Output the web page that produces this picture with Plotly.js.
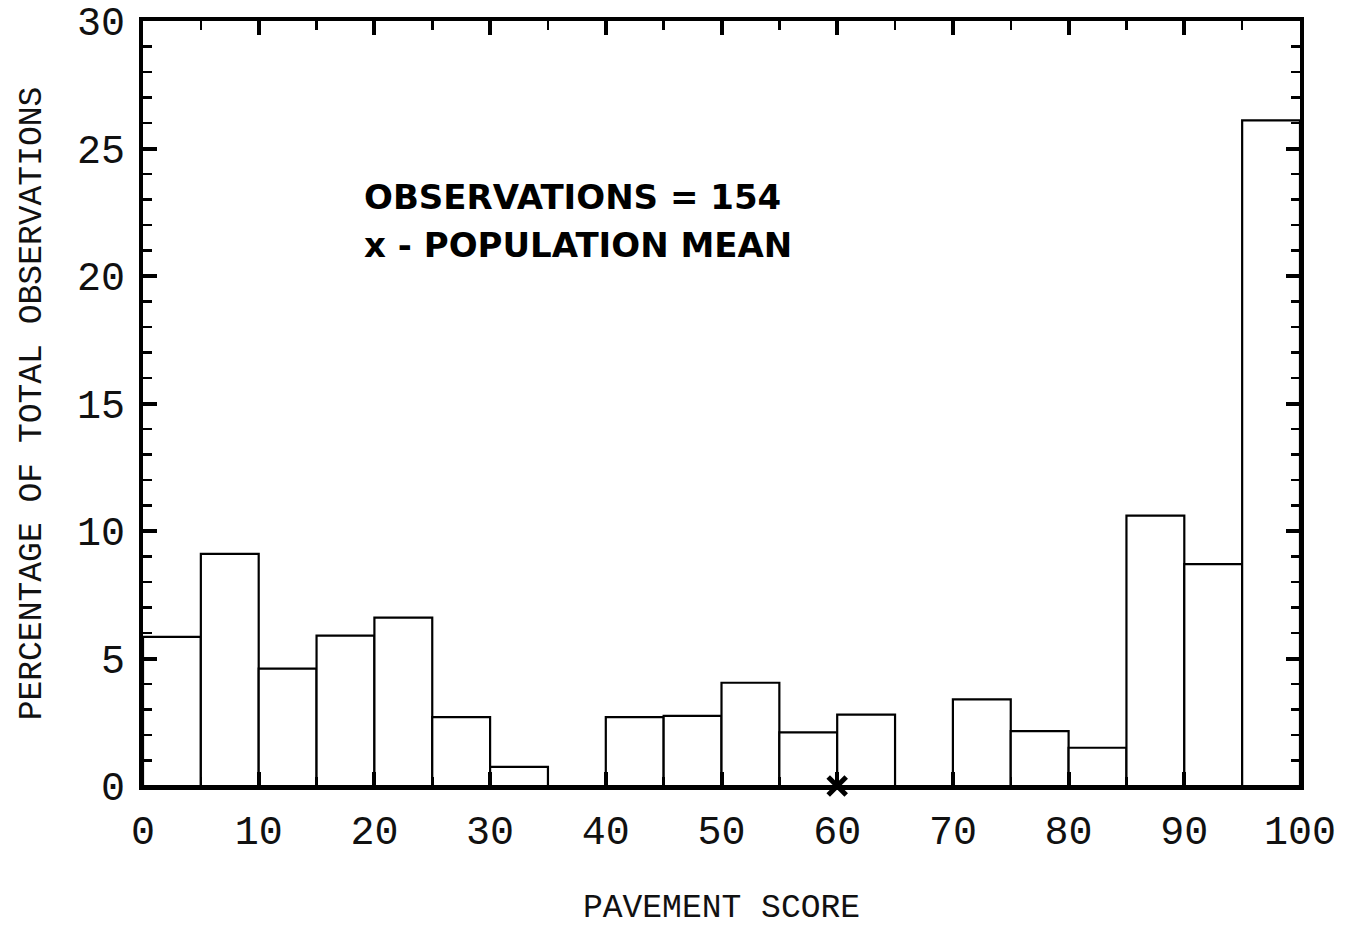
<!DOCTYPE html>
<html>
<head>
<meta charset="utf-8">
<script src="https://cdn.plot.ly/plotly-3.0.1.min.js"></script>
<style>html,body{margin:0;padding:0;background:#fff;}#chart{width:1345px;height:927px;}</style>
</head>
<body>
<div id="chart"></div>
<script>
// Histogram bins (pavement score) and percentage of total observations
const binStarts = [0, 5, 10, 15, 20, 25, 30, 35, 40, 45, 50, 55, 60, 65, 70, 75, 80, 85, 90, 95];
const binWidth = 5;
const percentages = [5.85, 9.1, 4.6, 5.9, 6.6, 2.7, 0.75, 0, 2.7, 2.75, 4.05, 2.1, 2.8, 0, 3.4, 2.15, 1.5, 10.6, 8.7, 26.1];
const populationMean = [60];
const meanMarkerY = [0];
const annotationLines = ["OBSERVATIONS = 154", "x - POPULATION MEAN"];
const xTickValues = [0, 10, 20, 30, 40, 50, 60, 70, 80, 90, 100];
const yTickValues = [0, 5, 10, 15, 20, 25, 30];

const binCenters = binStarts.map(s => s + binWidth / 2);

const tickFont = {family: "Liberation Mono, Courier New, monospace", size: 40, color: "#111"};
const titleFont = {family: "Liberation Mono, Courier New, monospace", size: 33, color: "#111"};

const traces = [
  {
    type: "bar",
    x: binCenters,
    y: percentages,
    width: binStarts.map(() => binWidth),
    marker: {color: "#ffffff", line: {color: "#000", width: 2.2}},
    hoverinfo: "x+y",
    showlegend: false
  },
  {
    type: "scatter",
    mode: "markers",
    x: populationMean,
    y: meanMarkerY,
    marker: {symbol: "x-thin", size: 18, color: "#000", line: {color: "#000", width: 5}},
    cliponaxis: false,
    showlegend: false
  }
];

const layout = {
  width: 1345,
  height: 927,
  margin: {l: 143, r: 45, t: 21, b: 141},
  paper_bgcolor: "#fff",
  plot_bgcolor: "#fff",
  bargap: 0,
  xaxis: {
    range: [0, 100],
    tickvals: xTickValues,
    ticks: "inside",
    ticklen: 14,
    tickwidth: 4,
    tickcolor: "#000",
    minor: {dtick: 5, tick0: 0, ticks: "inside", ticklen: 9, tickwidth: 2.5, tickcolor: "#000"},
    showline: true,
    linewidth: 4,
    linecolor: "#000",
    mirror: "ticks",
    showgrid: false,
    zeroline: false,
    tickfont: tickFont,
    ticklabelstandoff: 6,
    title: {text: "PAVEMENT SCORE", font: titleFont, standoff: 40}
  },
  yaxis: {
    range: [0, 30],
    tickvals: yTickValues,
    ticks: "inside",
    ticklen: 14,
    tickwidth: 4,
    tickcolor: "#000",
    minor: {dtick: 1, tick0: 0, ticks: "inside", ticklen: 9, tickwidth: 2.5, tickcolor: "#000"},
    showline: true,
    linewidth: 4,
    linecolor: "#000",
    mirror: "ticks",
    showgrid: false,
    zeroline: false,
    tickfont: tickFont,
    ticklabelstandoff: 6,
    title: {text: "PERCENTAGE OF TOTAL OBSERVATIONS", font: titleFont, standoff: 26}
  },
  annotations: [
    {xref: "x", yref: "y", x: 18.9, y: 23.1, xanchor: "left", yanchor: "middle", showarrow: false,
     text: annotationLines[0], font: {family: "DejaVu Sans", size: 34, color: "#000", weight: "bold"}},
    {xref: "x", yref: "y", x: 18.9, y: 21.2, xanchor: "left", yanchor: "middle", showarrow: false,
     text: annotationLines[1], font: {family: "DejaVu Sans", size: 34, color: "#000", weight: "bold"}}
  ]
};

Plotly.newPlot("chart", traces, layout, {displayModeBar: false, staticPlot: true});
</script>
</body>
</html>
